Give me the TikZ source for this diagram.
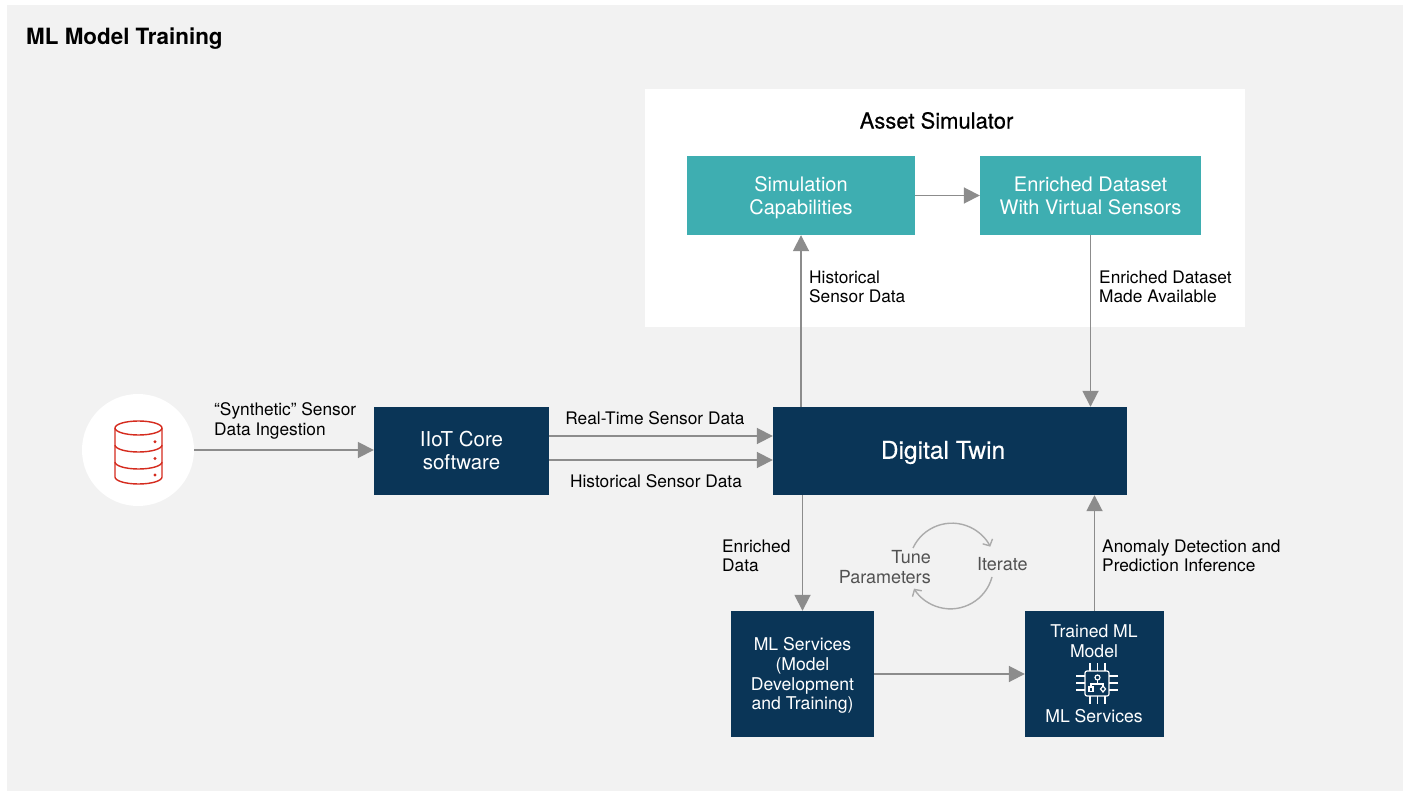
\documentclass[tikz,border=0pt]{standalone}
\usepackage{fontspec}
\setmainfont{TeX Gyre Heros}
\newfontfamily\medfont[FakeBold=0.35]{TeX Gyre Heros}
\usetikzlibrary{arrows.meta}
\definecolor{panelgray}{HTML}{F2F2F2}
\definecolor{navybox}{HTML}{0A3557}
\definecolor{tealbox}{HTML}{3EAEB1}
\definecolor{linkgray}{HTML}{8C8C8C}
\definecolor{dbred}{HTML}{D52B1E}
\tikzset{link/.style={line width=1.8pt, linkgray, -{Triangle[length=16pt,width=16pt]}}}
\tikzset{loopline/.style={line width=1.4pt, black!33, -{Straight Barb[length=5pt,width=11pt]}}}
\tikzset{navy/.style={fill=navybox, text=white, inner sep=0pt, align=center, font=\fontsize{20.5}{23}\selectfont}}
\tikzset{teal/.style={fill=tealbox, text=white, inner sep=0pt, align=center, font=\fontsize{20}{23}\selectfont}}
\tikzset{lbl/.style={inner sep=0pt, align=left, anchor=west, font=\fontsize{17.3}{19.5}\selectfont}}
\tikzset{dbline/.style={line width=1.4pt, dbred}}
\tikzset{chip/.style={line width=1.2pt, white}}
\begin{document}
\begin{tikzpicture}[x=1pt,y=-1pt]
      \useasboundingbox (0,0) rectangle (1405,791);
      \fill[panelgray] (7,5) rectangle (1403,791);
      \node[inner sep=0pt, anchor=west, font=\fontsize{22.4}{28}\selectfont\bfseries] (title) at (26,38.5) {ML Model Training};

      % Asset simulator
      \node[fill=white, inner sep=0pt, minimum width=600pt, minimum height=238pt] (assetpanel) at (945,208) {};
      \node[inner sep=0pt, font=\fontsize{22}{24}\selectfont\medfont] (assettitle) at (936.5,120.5) {Asset Simulator};
      \node[teal, minimum width=228pt, minimum height=79pt] (simcap) at (801,195.5) {};
      \node[inner sep=0pt, text=white, align=center, font=\fontsize{20}{23}\selectfont] (simtext) at (801,198) {Simulation\\Capabilities};
      \node[teal, minimum width=221pt, minimum height=79pt] (enriched) at (1090.5,195.5) {Enriched Dataset\\With Virtual Sensors};

      % Boxes
      \node[circle, fill=white, inner sep=0pt, minimum size=112pt] (source) at (138,450) {};
      \node[navy, minimum width=175pt, minimum height=88pt] (iiot) at (461.5,451) {};
      \node[inner sep=0pt, text=white, align=center, font=\fontsize{20.5}{23}\selectfont] (iiottext) at (461.5,450) {IIoT Core\\software};
      \node[navy, minimum width=354pt, minimum height=88pt] (twin) at (950,451) {};
      \node[inner sep=0pt, text=white, font=\fontsize{24.5}{28}\selectfont\medfont] (twintext) at (943,452.5) {Digital Twin};
      \node[navy, minimum width=143pt, minimum height=126pt] (mlserv) at (802.5,674) {};
      \node[inner sep=0pt, text=white, align=center, font=\fontsize{17.6}{19.8}\selectfont] (mlservtext) at (802.5,675.5) {ML Services\\(Model\\Development\\and Training)};
      \node[navy, minimum width=139pt, minimum height=126pt] (trained) at (1094.5,674) {};
      \node[inner sep=0pt, text=white, align=center, font=\fontsize{17.6}{19.8}\selectfont] (trainedtext) at (1094,641) {Trained ML\\Model};
      \node[inner sep=0pt, text=white, font=\fontsize{17.6}{19.8}\selectfont] (trainedserv) at (1094,716) {ML Services};

      % Connectors
      \draw[link] (source) -- (source -| iiot.west);
      \coordinate (rtstart) at (549,436);
      \coordinate (histstart) at (549,460);
      \draw[link] (rtstart) -- (rtstart -| twin.west);
      \draw[link] (histstart) -- (histstart -| twin.west);
      \draw[link] (simcap) -- (enriched);
      \draw[link] (simcap.south |- twin.north) -- (simcap.south);
      \draw[link] (enriched.south) -- (enriched.south |- twin.north);
      \draw[link] (mlserv.north |- twin.south) -- (mlserv.north);
      \draw[link] (mlserv) -- (trained);
      \draw[link] (trained.north) -- (trained.north |- twin.south);

      % Labels
      \node[lbl] (lblsynth) at (214,421) {“Synthetic” Sensor\\Data Ingestion};
      \node[lbl, anchor=center] (lblreal) at (655,418) {Real-Time Sensor Data};
      \node[lbl, anchor=center] (lblhist) at (656,481) {Historical Sensor Data};
      \node[lbl] (lblsimhist) at (809,287) {Historical\\Sensor Data};
      \node[lbl] (lblavail) at (1099,287) {Enriched Dataset\\Made Available};
      \node[lbl] (lbldata) at (722,556) {Enriched\\Data};
      \node[lbl] (lblinfer) at (1102,556) {Anomaly Detection and\\Prediction Inference};
      \node[lbl, align=right, anchor=east, text=black!68, font=\fontsize{18}{19.5}\selectfont] (lbltune) at (931,567) {Tune\\Parameters};
      \node[lbl, text=black!68, font=\fontsize{18}{19.5}\selectfont] (lbliter) at (977,564) {Iterate};

      % Loop
      \coordinate (loopa) at (913,548);
      \coordinate (loopb) at (992,577);
      \draw[loopline] (loopa) arc[start angle=155, end angle=27, radius=43pt];
      \draw[loopline] (loopb) arc[start angle=-15, end angle=-148, radius=43pt];

      % Database icon
      \draw[dbline] (138.5,428) ellipse[x radius=23.5pt, y radius=7pt];
      \draw[dbline] (115,428) -- (115,477) arc[start angle=180, end angle=360, x radius=23.5pt, y radius=7pt] -- (162,428);
      \foreach \bandy in {445,462}
        \draw[dbline] (115,\bandy) arc[start angle=180, end angle=360, x radius=23.5pt, y radius=7pt];
      \foreach \doty in {441.7,458.5,475}
        \fill[dbred] (155,\doty) circle (1.6pt);

      % Chip icon
      \draw[chip, rounded corners=2pt] (1085,671) rectangle (1109,696);
      \foreach \pinx in {1090,1097.5,1105} {
        \draw[chip] (\pinx,663) -- (\pinx,671);
        \draw[chip] (\pinx,696) -- (\pinx,704);
      }
      \foreach \piny in {676,683,690} {
        \draw[chip] (1076,\piny) -- (1085,\piny);
        \draw[chip] (1109,\piny) -- (1118,\piny);
      }
      \draw[chip] (1097.5,677.5) circle (2.5pt);
      \draw[chip] (1097.5,680) -- (1097.5,684) (1091,687) -- (1091,684) -- (1103,684) -- (1103,686);
      \draw[chip] (1089,687) rectangle (1093,691.5);
      \draw[chip] (1103,686) -- (1105.5,689) -- (1103,692) -- (1100.5,689) -- cycle;
\end{tikzpicture}
\end{document}
